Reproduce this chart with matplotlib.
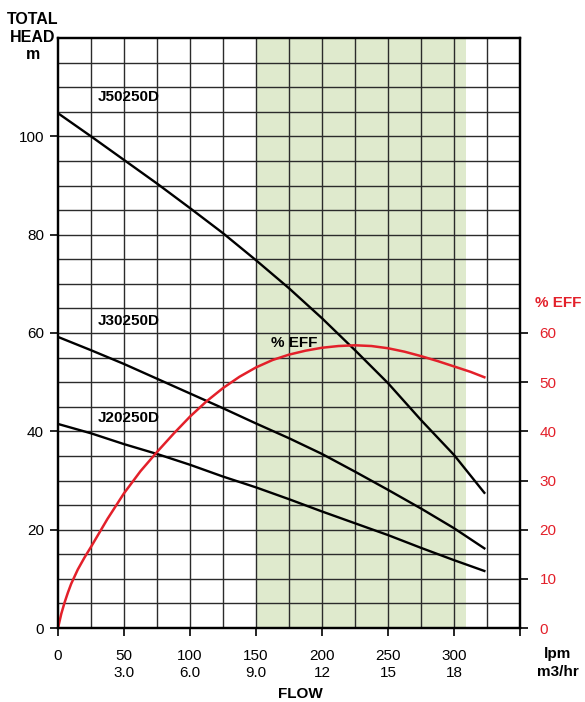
import numpy as np
import matplotlib
matplotlib.use("Agg")
import matplotlib.pyplot as plt

plt.rcParams["font.family"] = ["Liberation Sans", "DejaVu Sans"]

# -------------------------------
# 1. Pump curve data (flow in lpm)
# -------------------------------
flow = [0, 25, 50, 75, 100, 125, 150, 175, 200, 225, 250, 275, 300, 323]
head_j50 = [104.7, 100.0, 95.2, 90.4, 85.4, 80.3, 74.8, 69.1, 63.0, 56.5, 49.8, 42.3, 35.2, 27.5]
head_j30 = [59.2, 56.5, 53.7, 50.7, 47.7, 44.7, 41.6, 38.6, 35.4, 31.8, 28.1, 24.3, 20.3, 16.2]
head_j20 = [41.5, 39.6, 37.4, 35.4, 33.2, 30.8, 28.6, 26.2, 23.7, 21.3, 18.9, 16.3, 13.8, 11.6]

eff_flow = [0, 2.5, 5, 7.5, 10, 15, 20, 25, 37.5, 50, 62.5, 75, 87.5, 100, 112.5, 125, 137.5,
            150, 162.5, 175, 187.5, 200, 212.5, 225, 237.5, 250, 262.5, 275, 287.5, 300, 312.5, 323]
eff = [0, 2.9, 5.2, 7.2, 9.0, 11.9, 14.3, 16.5, 22.2, 27.4, 31.9, 35.8, 39.5, 43.0, 46.1, 48.8, 51.1,
       53.0, 54.5, 55.6, 56.4, 57.0, 57.35, 57.5, 57.35, 56.9, 56.2, 55.3, 54.3, 53.2, 52.1, 51.0]

lpm_ticks = [0, 50, 100, 150, 200, 250, 300, 350]
m3hr_labels = ["", "3.0", "6.0", "9.0", "12", "15", "18", ""]
head_ticks = [0, 20, 40, 60, 80, 100]
eff_ticks = [0, 10, 20, 30, 40, 50, 60]
best_range = (150, 309)

red = "#e3202a"
grid_col = "#2b2b2b"

# -------------------------------
# 2. Figure and axes
# -------------------------------
fig = plt.figure(figsize=(5.85, 7.02), dpi=100)
ax = fig.add_axes([58 / 585, 1 - 628 / 702, 462 / 585, 590 / 702])
ax.set_xlim(0, 350)
ax.set_ylim(0, 120)

ax.axvspan(best_range[0], best_range[1], color="#dfeacd", zorder=0, lw=0)

for x in np.arange(25, 350, 25):
    ax.axvline(x, color=grid_col, lw=1.0, zorder=1)
for y in np.arange(5, 120, 5):
    ax.axhline(y, color=grid_col, lw=1.0, zorder=1)

ax.plot(flow, head_j50, color="black", lw=1.7, zorder=3)
ax.plot(flow, head_j30, color="black", lw=1.7, zorder=3)
ax.plot(flow, head_j20, color="black", lw=1.7, zorder=3)
ax.plot(eff_flow, eff, color=red, lw=1.8, zorder=4)

for s in ax.spines.values():
    s.set_linewidth(1.6)

ax.set_yticks(head_ticks)
ax.set_yticklabels([str(t) for t in head_ticks])
ax.set_xticks(lpm_ticks)
ax.set_xticklabels([f"{a}\n{b}" if a != 350 else "" for a, b in zip(lpm_ticks, m3hr_labels)],
                   linespacing=1.3)
ax.tick_params(axis="both", direction="out", length=6, width=1.2, labelsize=11)
ax.tick_params(axis="x", pad=9)
ax.tick_params(axis="y", pad=4)

# right axis for efficiency
ax2 = ax.twinx()
ax2.set_ylim(0, 120)
ax2.set_yticks(eff_ticks)
ax2.tick_params(axis="y", direction="out", length=6, width=1.2, labelsize=11,
                labelcolor=red, pad=8)
for s in ax2.spines.values():
    s.set_linewidth(1.6)

# -------------------------------
# 3. Labels
# -------------------------------
bold = dict(fontsize=11, fontweight="bold")
fig.text(33 / 585, 1 - 37 / 702, "TOTAL\nHEAD\nm", ha="center", va="center",
         linespacing=1.2, fontsize=11.5, fontweight="bold")
ax.text(30, 108, "J50250D", ha="left", va="center", **bold)
ax.text(30, 62.5, "J30250D", ha="left", va="center", **bold)
ax.text(30, 42.8, "J20250D", ha="left", va="center", **bold)
ax.text(161, 58, "% EFF", ha="left", va="center", **bold)
fig.text(558 / 585, 1 - 303 / 702, "% EFF", ha="center", va="center", color=red, **bold)
fig.text(558 / 585, 1 - 663 / 702, "lpm\nm3/hr", ha="center", va="center",
         linespacing=1.3, **bold)
fig.text(300 / 585, 1 - 694 / 702, "FLOW", ha="center", va="center", **bold)

fig.savefig("out.png", dpi=100)
